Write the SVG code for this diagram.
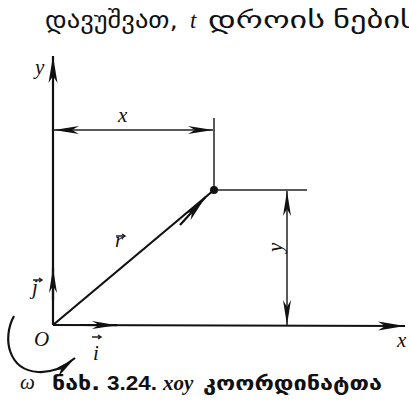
<svg xmlns="http://www.w3.org/2000/svg" width="409" height="401" viewBox="0 0 409 401">
<style>
.ax{stroke:#111;stroke-width:2.2;fill:none}
.dim{stroke:#222;stroke-width:1.5;fill:none}
.it{font-family:"Liberation Serif",serif;font-style:italic;fill:#111}
.geo{font-family:"DejaVu Sans",sans-serif;fill:#111}
.cap{font-family:"DejaVu Sans",sans-serif;font-weight:bold;fill:#111}
</style>
<defs>
<marker id="ah" viewBox="-28 -5 30 10" refX="0" refY="0" markerWidth="30" markerHeight="10" markerUnits="userSpaceOnUse" orient="auto">
<path d="M0,0 L-27,-4.5 L-20,0 L-27,4.5 Z" fill="#111"/>
</marker>
<marker id="ahs" viewBox="-28 -5 30 10" refX="0" refY="0" markerWidth="30" markerHeight="10" markerUnits="userSpaceOnUse" orient="auto">
<path d="M0,0 L-25,-4 L-18,0 L-25,4 Z" fill="#111"/>
</marker>
</defs>
<g id="top-text">
<text class="geo" x="45" y="28" font-size="23" textLength="133" lengthAdjust="spacingAndGlyphs">დავუშვათ,</text>
<text class="it" x="190" y="28" font-size="23">t</text>
<text class="geo" x="208" y="28" font-size="23" textLength="117" lengthAdjust="spacingAndGlyphs">დროის</text>
<text class="geo" x="333" y="28" font-size="23" textLength="84" lengthAdjust="spacingAndGlyphs">ნების</text>
</g>
<g id="connectors">
<path id="y-axis" class="ax" d="M53,325 L53,56" marker-end="url(#ah)"/>
<path id="x-axis" class="ax" d="M53,325 L405,326" marker-end="url(#ah)"/>
<path id="r-vector" class="ax" d="M53,325 L214,190"/>
<path class="ax" d="M180,225 L205.6,197" stroke="none" marker-end="url(#ah)"/>
<path id="j-vector" class="ax" d="M53,300 L53,268" stroke="none" marker-end="url(#ahs)"/>
<path id="i-vector" class="ax" d="M80,325 L117,325.2" stroke="none" marker-end="url(#ahs)"/>
<path class="dim" d="M214,118 L214,190"/>
<path class="dim" d="M214,190 L307,190"/>
<path id="x-dim" class="dim" d="M133,130 L54,130" marker-end="url(#ahs)"/>
<path class="dim" d="M133,130 L213,130" marker-end="url(#ahs)"/>
<path id="y-dim" class="dim" d="M287,258 L287,191" marker-end="url(#ahs)"/>
<path class="dim" d="M287,258 L287,325" marker-end="url(#ahs)"/>
<path id="omega-arc" class="ax" d="M14,316 C2,338 8,370 38,372 C52,373 64,367 75,358" marker-end="url(#ahs)"/>
</g>
<g id="point"><circle cx="214" cy="190" r="4" fill="#111"/></g>
<g id="labels">
<text class="it" x="35" y="74" font-size="21">y</text>
<text class="it" x="118" y="122" font-size="21">x</text>
<text class="it" x="115" y="247" font-size="21">r</text>
<path class="dim" d="M116,236 L125,236 M122,234 L125,236 L122,238" stroke-width="1"/>
<text class="it" x="0" y="0" font-size="21" transform="translate(282,252) rotate(-90)">y</text>
<text class="it" x="32" y="294" font-size="21">j</text>
<path class="dim" d="M33,280 L42,280 M39,278 L42,280 L39,282" stroke-width="1"/>
<text class="it" x="34" y="346" font-size="21">O</text>
<text class="it" x="93" y="360" font-size="21">i</text>
<path class="dim" d="M92,337 L101,337 M98,335 L101,337 L98,339" stroke-width="1"/>
<text class="it" x="397" y="347" font-size="21">x</text>
<text class="it" x="20" y="389" font-size="21">ω</text>
</g>
<g id="caption">
<text class="cap" x="52" y="390" font-size="20" textLength="48" lengthAdjust="spacingAndGlyphs">ნახ.</text>
<text x="107" y="390" font-size="20" style="font-family:'Liberation Sans',sans-serif;font-weight:bold;fill:#111" textLength="50" lengthAdjust="spacingAndGlyphs">3.24.</text>
<text x="163" y="390" font-size="21" style="font-family:'Liberation Serif',serif;font-style:italic;font-weight:bold;fill:#111">xoy</text>
<text class="cap" x="203" y="390" font-size="20" textLength="179" lengthAdjust="spacingAndGlyphs">კოორდინატთა</text>
</g>
</svg>
